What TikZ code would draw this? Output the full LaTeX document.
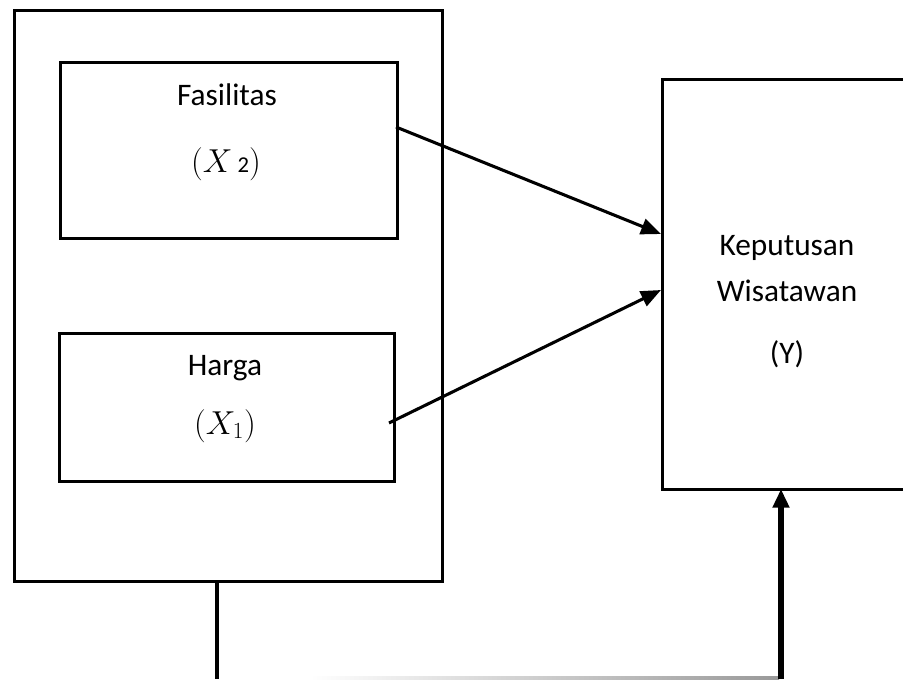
\documentclass[tikz,border=0pt]{standalone}
\usepackage{fontspec}
\setmainfont{Carlito}
\usetikzlibrary{arrows.meta}
\begin{document}
\begin{tikzpicture}[x=0.75pt,y=-0.75pt,
  box/.style={draw=black,line width=2.2pt,anchor=north west,inner sep=0pt},
  lbl/.style={font=\fontsize{23.5}{28}\selectfont,inner sep=0pt,anchor=base},
  conn/.style={line width=2.3pt,-{Triangle[length=15pt,width=12pt]}},
  thick conn/.style={line width=3.8pt,-{Triangle[length=14pt,width=12pt]}}]
\useasboundingbox (0,0) rectangle (903,679);
\clip (0,0) rectangle (903,679);
% boxes
\node[box,minimum width=321pt,minimum height=428pt] (outer) at (13,9) {};
\node[box,minimum width=253pt,minimum height=132pt] (fas) at (59,61) {};
\node[box,minimum width=251pt,minimum height=111pt] (har) at (58,332) {};
\node[box,minimum width=200pt,minimum height=307.5pt] (kep) at (661,78) {};
% labels
\node[lbl] (t1) at (227,105) {Fasilitas};
\node[lbl] (t2) at (226,172) {$(X$\,{\fontsize{17}{20}\selectfont 2}$)$};
\node[lbl] (t3) at (225,375) {Harga};
\node[lbl] (t4) at (225,434) {$(X_1)$};
\node[lbl] (t5) at (787,255) {Keputusan};
\node[lbl] (t6) at (787,301) {Wisatawan};
\node[lbl] (t7) at (787,363) {(Y)};
% connectors
\coordinate (s1) at (396,127);
\coordinate (e1) at (661,234);
\coordinate (s2) at (389,423);
\coordinate (e2) at (661,290);
\draw[conn] (s1) -- (e1);
\draw[conn] (s2) -- (e2);
\coordinate (b1) at (217,581);
\coordinate (b2) at (217,679);
\coordinate (c1) at (781,679);
\coordinate (c2) at (781,489);
\draw[line width=2.3pt] (b1) -- (b2);
\shade[left color=white,right color=gray!80] (310,676.5) rectangle (779,679);
\draw[thick conn] (c1) -- (c2);
\end{tikzpicture}
\end{document}
